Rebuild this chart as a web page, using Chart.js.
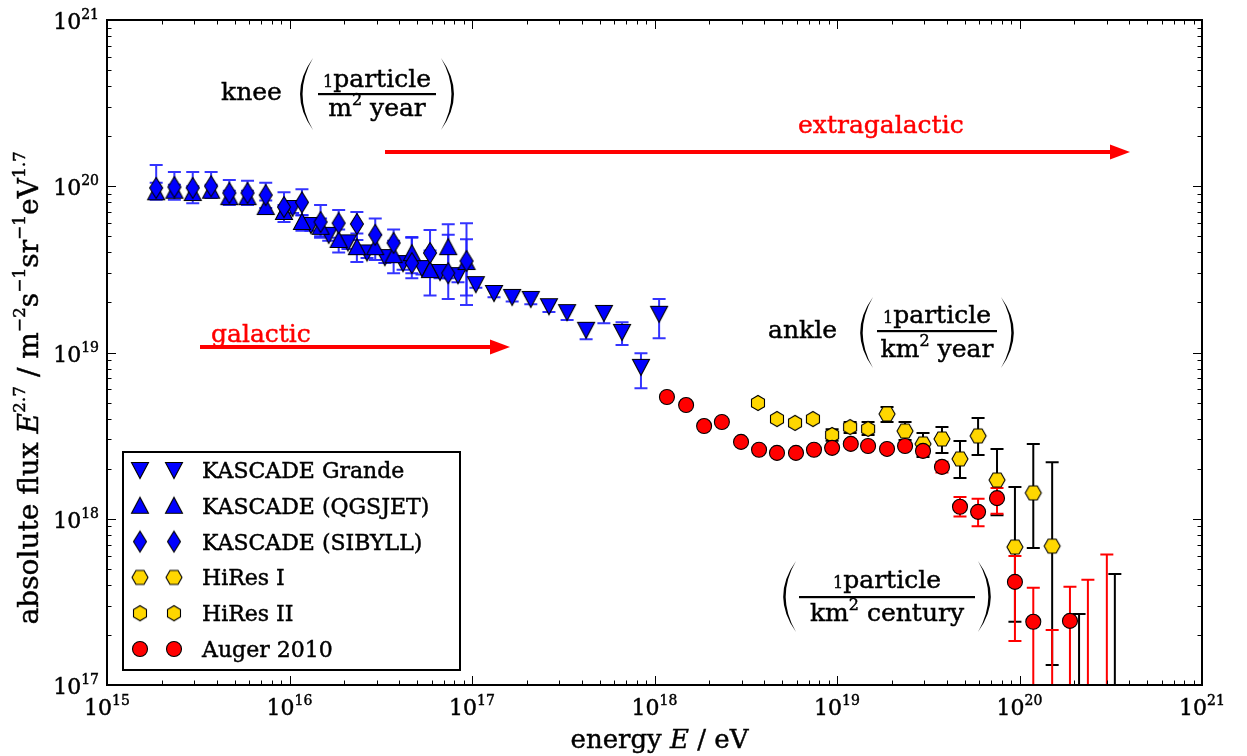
<!DOCTYPE html>
<html>
<head>
<meta charset="utf-8">
<script src="https://cdn.jsdelivr.net/npm/chart.js@4.4.0/dist/chart.umd.min.js"></script>
<style>
  html, body { margin: 0; padding: 0; background: #fff; }
  #wrap { width: 1247px; height: 756px; }
</style>
</head>
<body>
<div id="wrap"><canvas id="chart" width="1247" height="756"></canvas></div>
<script>
// KASCADE (SIBYLL) and KASCADE (QGSJET) share energy bins
const kascadeE = [1.86e15, 2.34e15, 2.95e15, 3.72e15, 4.68e15, 5.89e15, 7.41e15, 9.33e15, 1.17e16,
  1.48e16, 1.86e16, 2.34e16, 2.95e16, 3.72e16, 4.68e16, 5.89e16, 7.41e16, 9.33e16];
const sibyllFlux = [9.77e19, 9.88e19, 9.77e19, 1.0e20, 9.1e19, 9.1e19, 8.85e19, 7.5e19, 8.0e19,
  6.1e19, 6.0e19, 5.93e19, 5.1e19, 4.56e19, 3.45e19, 3.97e19, 3.0e19, 3.55e19];
const sibyllHi = [1.34e20, 1.22e20, 1.22e20, 1.22e20, 1.09e20, 1.08e20, 1.05e20, 9.2e19, 9.6e19,
  7.7e19, 7.2e19, 7.0e19, 6.4e19, 5.5e19, 4.95e19, 5.45e19, 5.1e19, 6.0e19];
const sibyllLo = [8.3e19, 8.3e19, 7.9e19, 8.5e19, 7.7e19, 7.7e19, 7.4e19, 6.1e19, 6.7e19,
  4.9e19, 4.9e19, 4.75e19, 4.0e19, 3.7e19, 2.8e19, 2.9e19, 2.1e19, 1.93e19];

const qgsFlux = [9.2e19, 9.4e19, 9.1e19, 9.4e19, 8.6e19, 8.6e19, 7.5e19, 7.0e19, 6.1e19,
  5.7e19, 4.75e19, 4.3e19, 4.3e19, 3.85e19, 3.96e19, 3.13e19, 4.3e19, 3.5e19];
const qgsHi = [1.05e20, 1.02e20, 1.0e20, 1.02e20, 9.4e19, 9.4e19, 8.2e19, 7.7e19, 6.7e19,
  6.4e19, 5.5e19, 5.2e19, 5.1e19, 4.7e19, 4.9e19, 4.1e19, 5.9e19, 4.8e19];
const qgsLo = [8.5e19, 8.6e19, 8.4e19, 8.6e19, 7.9e19, 7.9e19, 6.9e19, 6.4e19, 5.4e19,
  5.0e19, 4.0e19, 3.5e19, 3.6e19, 3.0e19, 3.0e19, 2.2e19, 2.8e19, 2.2e19];

const grandeE = [1.04e16, 1.31e16, 1.64e16, 2.09e16, 2.66e16, 3.33e16, 4.19e16, 5.32e16, 6.68e16, 8.38e16,
  1.05e17, 1.32e17, 1.66e17, 2.10e17, 2.64e17, 3.32e17, 4.22e17, 5.28e17, 6.64e17, 8.43e17, 1.06e18];
const grandeFlux = [7.4e19, 5.85e19, 5.1e19, 4.6e19, 4.0e19, 3.75e19, 3.45e19, 3.22e19, 3.05e19, 2.92e19,
  2.58e19, 2.28e19, 2.16e19, 2.1e19, 1.9e19, 1.75e19, 1.37e19, 1.73e19, 1.33e19, 8.2e18, 1.71e19];
const grandeHi = [7.9e19, 6.3e19, 5.5e19, 5.0e19, 4.35e19, 4.1e19, 3.8e19, 3.55e19, 3.35e19, 3.2e19,
  2.75e19, 2.4e19, 2.3e19, 2.2e19, 2.0e19, 1.85e19, 1.5e19, 1.9e19, 1.52e19, 9.9e18, 2.1e19];
const grandeLo = [6.9e19, 5.4e19, 4.7e19, 4.2e19, 3.7e19, 3.45e19, 3.15e19, 2.95e19, 2.8e19, 2.65e19,
  2.45e19, 2.15e19, 2.03e19, 1.95e19, 1.75e19, 1.57e19, 1.2e19, 1.5e19, 1.11e19, 6.1e18, 1.22e19];

const hires2E = [3.69e18, 4.69e18, 5.89e18, 7.38e18, 9.40e18, 1.18e19, 1.48e19];
const hires2Flux = [4.97e18, 3.98e18, 3.77e18, 3.98e18, 3.19e18, 3.56e18, 3.47e18];
const hires2Hi = [5.2e18, 4.15e18, 3.95e18, 4.15e18, 3.45e18, 3.82e18, 3.82e18];
const hires2Lo = [4.75e18, 3.8e18, 3.6e18, 3.8e18, 2.95e18, 3.28e18, 3.19e18];

const hires1E = [1.88e19, 2.36e19, 2.96e19, 3.76e19, 4.72e19, 5.93e19, 7.53e19, 9.44e19, 1.19e20, 1.51e20];
const hires1Flux = [4.27e18, 3.37e18, 2.82e18, 3.02e18, 2.29e18, 3.15e18, 1.71e18, 6.76e17, 1.43e18, 6.85e17];
const hires1Hi = [4.7e18, 3.82e18, 3.28e18, 3.56e18, 2.94e18, 4.04e18, 2.63e18, 1.55e18, 2.82e18, 2.19e18];
const hires1Lo = [3.82e18, 2.98e18, 2.35e18, 2.49e18, 1.76e18, 2.42e18, 1.05e18, 2.4e17, 6.67e17, 1.32e17];
// upper limits (bar only, no marker)
const hiresLimE = [2.12e20, 3.33e20];
const hiresLimHi = [2.67e17, 4.66e17];

const augerE = [1.17e18, 1.49e18, 1.87e18, 2.34e18, 2.98e18, 3.74e18, 4.69e18, 5.96e18, 7.48e18, 9.40e18, 1.19e19,
  1.48e19, 1.88e19, 2.36e19, 2.96e19, 3.76e19, 4.72e19, 5.93e19, 7.53e19, 9.44e19, 1.19e20, 1.89e20];
const augerFlux = [5.4e18, 4.83e18, 3.61e18, 3.82e18, 2.9e18, 2.6e18, 2.49e18, 2.49e18, 2.6e18, 2.67e18, 2.82e18,
  2.74e18, 2.63e18, 2.74e18, 2.56e18, 2.05e18, 1.18e18, 1.1e18, 1.33e18, 4.17e17, 2.4e17, 2.43e17];
const augerHi = [5.55e18, 4.97e18, 3.72e18, 3.93e18, 2.98e18, 2.67e18, 2.56e18, 2.56e18, 2.68e18, 2.76e18, 2.91e18,
  2.84e18, 2.74e18, 2.86e18, 2.7e18, 2.2e18, 1.35e18, 1.32e18, 1.53e18, 5.97e17, 3.84e17, 3.9e17];
const augerLo = [5.25e18, 4.69e18, 3.5e18, 3.71e18, 2.82e18, 2.53e18, 2.42e18, 2.42e18, 2.52e18, 2.58e18, 2.73e18,
  2.64e18, 2.52e18, 2.62e18, 2.42e18, 1.9e18, 1.03e18, 9.0e17, 1.07e18, 1.84e17, null, null];
const augerLimE = [1.51e20, 2.37e20, 3.01e20];
const augerLimHi = [2.14e17, 4.3e17, 6.1e17];

const legendLabels = ['KASCADE Grande', 'KASCADE (QGSJET)', 'KASCADE (SIBYLL)', 'HiRes I', 'HiRes II', 'Auger 2010'];
const xDecades = [15, 16, 17, 18, 19, 20, 21];
const yDecades = [17, 18, 19, 20, 21];

const FONT = '"DejaVu Serif", serif';
const BLUE = '#0000ff';
const GOLD = '#ffd700';
const RED = '#ff0000';

// marker shapes drawn into small canvases (matplotlib-like v, ^, d, h, H)
function marker(kind, fill) {
  const s = 26, m = s / 2;
  const c = document.createElement('canvas');
  c.width = s; c.height = s;
  const g = c.getContext('2d');
  g.beginPath();
  if (kind === 'down') {
    g.moveTo(m - 8.5, m - 7.5); g.lineTo(m + 8.5, m - 7.5); g.lineTo(m, m + 8.5);
  } else if (kind === 'up') {
    g.moveTo(m - 8.5, m + 7.5); g.lineTo(m + 8.5, m + 7.5); g.lineTo(m, m - 8.5);
  } else if (kind === 'diamond') {
    g.moveTo(m, m - 10.5); g.lineTo(m + 6.5, m); g.lineTo(m, m + 10.5); g.lineTo(m - 6.5, m);
  } else {
    const r = kind === 'hexH' ? 8 : 7.5;
    const off = kind === 'hexH' ? 0 : Math.PI / 2;
    for (let k = 0; k < 6; k++) {
      const a = off + k * Math.PI / 3;
      const px = m + r * Math.cos(a), py = m + r * Math.sin(a);
      if (k === 0) g.moveTo(px, py); else g.lineTo(px, py);
    }
  }
  g.closePath();
  g.fillStyle = fill;
  g.fill();
  g.lineWidth = 1.1;
  g.strokeStyle = '#000';
  g.stroke();
  return c;
}

const mkDown = marker('down', BLUE);
const mkUp = marker('up', BLUE);
const mkDiamond = marker('diamond', BLUE);
const mkHexI = marker('hexH', GOLD);
const mkHexII = marker('hex', GOLD);

function pts(E, F) { return E.map((e, i) => ({ x: e, y: F[i] })); }

const errorSets = [
  { E: grandeE, hi: grandeHi, lo: grandeLo, color: 'rgba(30,30,255,0.9)' },
  { E: kascadeE, hi: qgsHi, lo: qgsLo, color: 'rgba(30,30,255,0.9)' },
  { E: kascadeE, hi: sibyllHi, lo: sibyllLo, color: 'rgba(30,30,255,0.9)' },
  { E: hires2E, hi: hires2Hi, lo: hires2Lo, color: '#000' },
  { E: hires1E, hi: hires1Hi, lo: hires1Lo, color: '#000' },
  { E: hiresLimE, hi: hiresLimHi, lo: hiresLimE.map(() => null), color: '#000' },
  { E: augerE, hi: augerHi, lo: augerLo, color: RED },
  { E: augerLimE, hi: augerLimHi, lo: augerLimE.map(() => null), color: RED }
];

const errorBars = {
  id: 'errorBars',
  beforeDatasetsDraw(chart) {
    const g = chart.ctx, xs = chart.scales.x, ys = chart.scales.y, a = chart.chartArea;
    g.save();
    g.beginPath();
    g.rect(a.left, a.top, a.right - a.left, a.bottom - a.top);
    g.clip();
    g.lineWidth = 2;
    for (const set of errorSets) {
      g.strokeStyle = set.color;
      set.E.forEach((e, i) => {
        const x = xs.getPixelForValue(e);
        const yh = ys.getPixelForValue(set.hi[i]);
        const yl = set.lo[i] == null ? a.bottom + 20 : ys.getPixelForValue(set.lo[i]);
        g.beginPath();
        g.moveTo(x, yh); g.lineTo(x, yl);
        g.moveTo(x - 6.5, yh); g.lineTo(x + 6.5, yh);
        g.moveTo(x - 6.5, yl); g.lineTo(x + 6.5, yl);
        g.stroke();
      });
    }
    g.restore();
  }
};

// text with superscripts: parts are [text, style], style n | i | s (sup) | k (small at baseline)
function rich(g, parts, x, y, align, size, color) {
  const supSize = Math.round(size * 0.62);
  const fontOf = p => (p[1] === 'i' ? 'italic ' : '') + (p[1] === 's' || p[1] === 'k' ? supSize : size) + 'px ' + FONT;
  let w = 0;
  for (const p of parts) { g.font = fontOf(p); w += g.measureText(p[0]).width; }
  let cx = align === 'center' ? x - w / 2 : align === 'right' ? x - w : x;
  g.fillStyle = color || '#000';
  g.strokeStyle = color || '#000';
  g.lineWidth = 0.45;
  g.textAlign = 'left';
  g.textBaseline = 'alphabetic';
  for (const p of parts) {
    g.font = fontOf(p);
    const yy = p[1] === 's' ? y - size * 0.45 : y;
    g.fillText(p[0], cx, yy);
    g.strokeText(p[0], cx, yy);
    cx += g.measureText(p[0]).width;
  }
  return w;
}

function paren(g, x, yTop, yBot, dir) {
  const h = yBot - yTop, mid = (yTop + yBot) / 2, bow = h * 0.18;
  g.fillStyle = '#000';
  g.beginPath();
  g.moveTo(x, yTop);
  g.quadraticCurveTo(x - dir * bow * 2, mid, x, yBot);
  g.quadraticCurveTo(x - dir * (bow * 2 - 5), mid, x, yTop);
  g.fill();
}

function arrow(g, x0, x1, y, color) {
  g.strokeStyle = color; g.fillStyle = color; g.lineWidth = 4;
  g.beginPath(); g.moveTo(x0, y); g.lineTo(x1 - 16, y); g.stroke();
  g.beginPath(); g.moveTo(x1, y); g.lineTo(x1 - 20, y - 7.5); g.lineTo(x1 - 20, y + 7.5); g.closePath(); g.fill();
}

function fraction(g, cx, yNum, yLine, yDen, halfW, num, den) {
  rich(g, num, cx, yNum, 'center', 25);
  g.fillStyle = '#000';
  g.fillRect(cx - halfW, yLine - 1, halfW * 2, 2.2);
  rich(g, den, cx, yDen, 'center', 25);
}

const frame = {
  id: 'frame',
  afterDraw(chart) {
    const g = chart.ctx, xs = chart.scales.x, ys = chart.scales.y, a = chart.chartArea;
    const W = a.right - a.left, H = a.bottom - a.top;
    // reference-pixel helper relative to the plot box (107..1202, 20..685)
    const P = (px, py) => [a.left + (px - 107) / 1095 * W, a.top + (py - 20) / 665 * H];
    g.save();

    // ticks, inward on all four sides
    g.strokeStyle = '#000';
    for (let d = xDecades[0]; d <= xDecades[xDecades.length - 1]; d++) {
      for (let k = 1; k <= 9; k++) {
        if (d === xDecades[xDecades.length - 1] && k > 1) break;
        const x = Math.round(xs.getPixelForValue(k * Math.pow(10, d))) + 0.5;
        const len = k === 1 ? 9 : 4.5;
        g.lineWidth = 1;
        g.beginPath();
        g.moveTo(x, a.bottom); g.lineTo(x, a.bottom - len);
        g.moveTo(x, a.top); g.lineTo(x, a.top + len);
        g.stroke();
      }
    }
    for (let d = yDecades[0]; d <= yDecades[yDecades.length - 1]; d++) {
      for (let k = 1; k <= 9; k++) {
        if (d === yDecades[yDecades.length - 1] && k > 1) break;
        const y = Math.round(ys.getPixelForValue(k * Math.pow(10, d))) + 0.5;
        const len = k === 1 ? 9 : 4.5;
        g.lineWidth = 1;
        g.beginPath();
        g.moveTo(a.left, y); g.lineTo(a.left + len, y);
        g.moveTo(a.right, y); g.lineTo(a.right - len, y);
        g.stroke();
      }
    }
    g.lineWidth = 2;
    g.strokeRect(a.left, a.top, W, H);

    // tick labels
    for (const d of xDecades) {
      const x = xs.getPixelForValue(Math.pow(10, d));
      rich(g, [['10', 'n'], [String(d), 's']], x, a.bottom + 30, 'center', 22);
    }
    for (const d of yDecades) {
      const y = ys.getPixelForValue(Math.pow(10, d));
      rich(g, [['10', 'n'], [String(d), 's']], a.left - 8, y + 9, 'right', 22);
    }

    // axis titles
    rich(g, [['energy ', 'n'], ['E', 'i'], [' / eV', 'n']], (a.left + a.right) / 2 + 5, 748, 'center', 26);
    g.save();
    g.translate(38, a.top + H * 0.553);
    g.rotate(-Math.PI / 2);
    rich(g, [['absolute flux ', 'n'], ['E', 'i'], ['2.7', 's'], [' / m', 'n'], ['\u22122', 's'], ['s', 'n'],
      ['\u22121', 's'], ['sr', 'n'], ['\u22121', 's'], ['eV', 'n'], ['1.7', 's']], 0, 0, 'center', 28);
    g.restore();

    // galactic / extragalactic arrows
    let p = P(385, 152), q = P(1130, 152);
    arrow(g, p[0], q[0], p[1], RED);
    p = P(798, 133); rich(g, [['extragalactic', 'n']], p[0], p[1], 'left', 25, RED);
    p = P(200, 347); q = P(510, 347);
    arrow(g, p[0], q[0], p[1], RED);
    p = P(211, 342); rich(g, [['galactic', 'n']], p[0], p[1], 'left', 25, RED);

    // knee
    p = P(221, 100); rich(g, [['knee', 'n']], p[0], p[1], 'left', 25);
    p = P(313, 58); q = P(313, 130); paren(g, p[0], p[1], q[1], 1);
    p = P(441, 58); q = P(441, 130); paren(g, p[0], p[1], q[1], -1);
    p = P(377, 87);
    fraction(g, p[0], p[1], P(0, 94)[1], P(0, 116)[1], 59,
      [['1', 'k'], ['particle', 'n']], [['m', 'n'], ['2', 's'], [' year', 'n']]);

    // ankle
    p = P(768, 338); rich(g, [['ankle', 'n']], p[0], p[1], 'left', 25);
    p = P(873, 297); q = P(873, 368); paren(g, p[0], p[1], q[1], 1);
    p = P(1001, 297); q = P(1001, 368); paren(g, p[0], p[1], q[1], -1);
    p = P(937, 323);
    fraction(g, p[0], p[1], P(0, 331)[1], P(0, 357)[1], 60,
      [['1', 'k'], ['particle', 'n']], [['km', 'n'], ['2', 's'], [' year', 'n']]);

    // century
    p = P(796, 561); q = P(796, 632); paren(g, p[0], p[1], q[1], 1);
    p = P(978, 561); q = P(978, 632); paren(g, p[0], p[1], q[1], -1);
    p = P(887, 588);
    fraction(g, p[0], p[1], P(0, 597)[1], P(0, 621)[1], 88,
      [['1', 'k'], ['particle', 'n']], [['km', 'n'], ['2', 's'], [' century', 'n']]);

    // legend box with two markers per entry
    p = P(123, 452); q = P(460, 670);
    g.fillStyle = '#fff';
    g.fillRect(p[0], p[1], q[0] - p[0], q[1] - p[1]);
    g.strokeStyle = '#000'; g.lineWidth = 2;
    g.strokeRect(p[0], p[1], q[0] - p[0], q[1] - p[1]);
    const icons = [mkDown, mkUp, mkDiamond, mkHexI, mkHexII, null];
    legendLabels.forEach((label, i) => {
      const r = P(0, 470 + i * 35.8)[1];
      for (const mx of [140, 174]) {
        const x = P(mx, 0)[0];
        if (icons[i]) {
          g.drawImage(icons[i], x - icons[i].width / 2, r - icons[i].height / 2);
        } else {
          g.beginPath(); g.arc(x, r, 7.5, 0, Math.PI * 2);
          g.fillStyle = RED; g.fill(); g.lineWidth = 1.1; g.strokeStyle = '#000'; g.stroke();
        }
      }
      rich(g, [[label, 'n']], P(202, 0)[0], r + 8, 'left', 22);
    });

    g.restore();
  }
};

const datasets = [
  { label: 'Auger 2010', data: pts(augerE, augerFlux), pointStyle: 'circle', pointRadius: 7.5,
    backgroundColor: RED, borderColor: '#000', borderWidth: 1.1 },
  { label: 'HiRes I', data: pts(hires1E, hires1Flux), pointStyle: mkHexI },
  { label: 'HiRes II', data: pts(hires2E, hires2Flux), pointStyle: mkHexII },
  { label: 'KASCADE (SIBYLL)', data: pts(kascadeE, sibyllFlux), pointStyle: mkDiamond },
  { label: 'KASCADE (QGSJET)', data: pts(kascadeE, qgsFlux), pointStyle: mkUp },
  { label: 'KASCADE Grande', data: pts(grandeE, grandeFlux), pointStyle: mkDown }
];

new Chart(document.getElementById('chart').getContext('2d'), {
  type: 'scatter',
  data: { datasets },
  options: {
    responsive: false,
    animation: false,
    layout: { padding: { left: 107, right: 45, top: 20, bottom: 71 } },
    plugins: { legend: { display: false }, tooltip: { enabled: false } },
    scales: {
      x: { type: 'logarithmic', min: 1e15, max: 1e21, display: false },
      y: { type: 'logarithmic', min: 1e17, max: 1e21, display: false }
    }
  },
  plugins: [errorBars, frame]
});
</script>
</body>
</html>
